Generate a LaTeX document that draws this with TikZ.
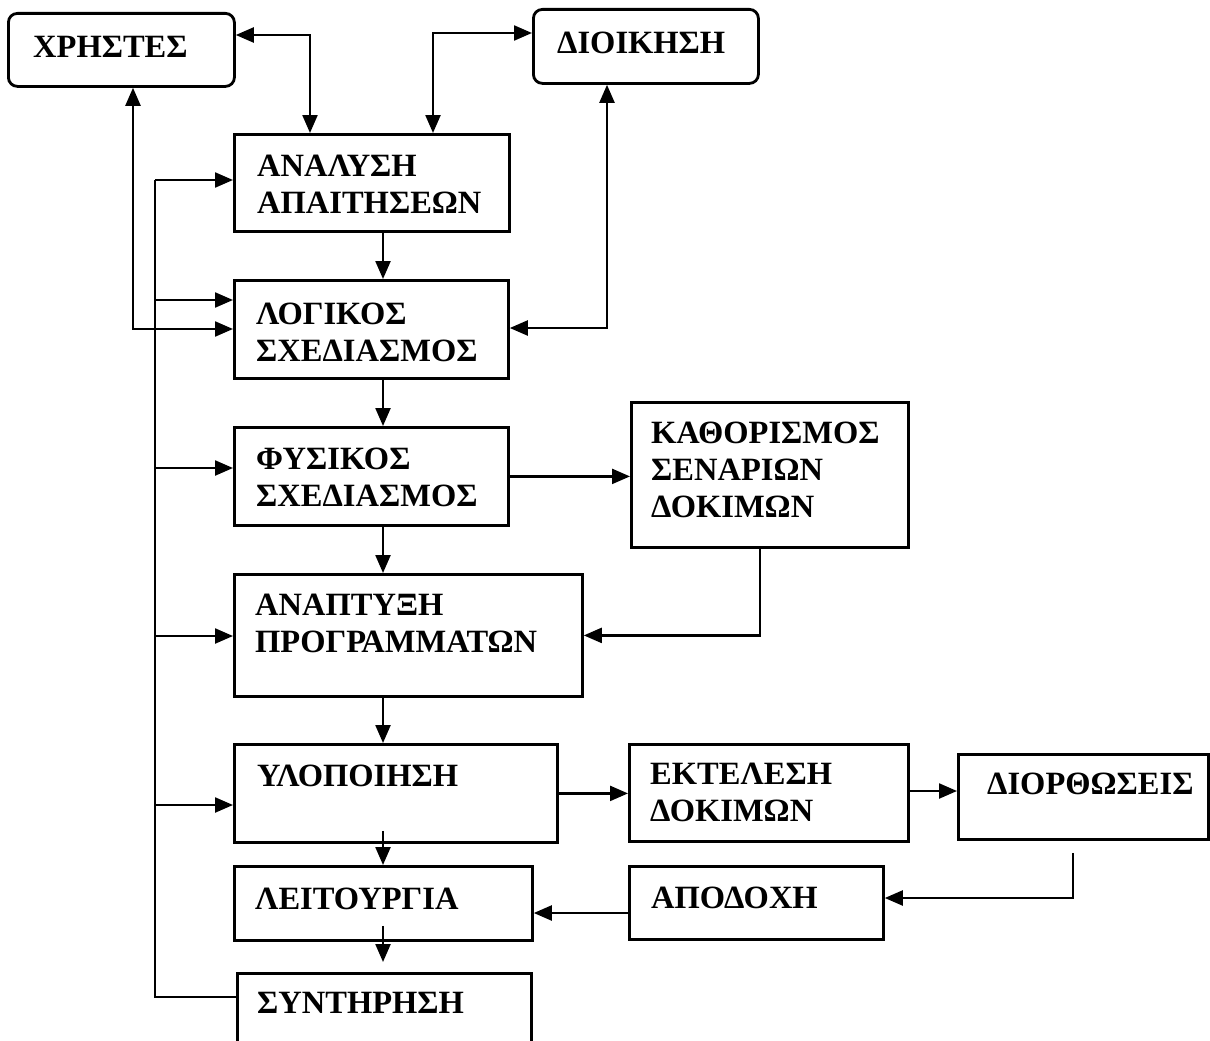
\documentclass[tikz,border=0pt]{standalone}
\usepackage{fontspec}
\setmainfont{Liberation Serif}
\usetikzlibrary{arrows.meta,calc}
% stacked left-aligned lines whose baseline is the first line
\newcommand\stk[1]{\begin{tabular}[t]{@{}l@{}}#1\end{tabular}}
\begin{document}
\begin{tikzpicture}[x=1pt,y=-1pt,
  box/.style={draw, line width=2.8pt, anchor=north west, inner sep=0pt},
  rbox/.style={box, rounded corners=9pt},
  lbl/.style={anchor=base west, inner sep=0pt, font=\fontsize{32.5}{37}\selectfont\bfseries},
  wire/.style={line width=2.3pt},
  tip/.tip={Triangle[length=18pt,width=15pt]},
  arr/.style={wire, -tip},
  darr/.style={wire, tip-tip}]

\fill[white] (0,0) rectangle (1210,1041);
\path[use as bounding box, clip] (0,0) rectangle (1210,1041);

% --- boxes ---
\node[rbox, minimum width=226pt, minimum height=73pt] (xr)   at (7,12)    {};
\node[rbox, minimum width=225pt, minimum height=74pt] (dio)  at (532,8)   {};
\node[box,  minimum width=275pt, minimum height=97pt] (ana)  at (233,133) {};
\node[box,  minimum width=274pt, minimum height=98pt] (log)  at (233,279) {};
\node[box,  minimum width=274pt, minimum height=98pt] (fys)  at (233,426) {};
\node[box,  minimum width=277pt, minimum height=145pt] (kath) at (630,401) {};
\node[box,  minimum width=348pt, minimum height=122pt] (anap) at (233,573) {};
\node[box,  minimum width=323pt, minimum height=98pt] (yl)   at (233,743) {};
\node[box,  minimum width=279pt, minimum height=97pt] (ekt)  at (628,743) {};
\node[box,  minimum width=250pt, minimum height=85pt] (dior) at (957,753) {};
\node[box,  minimum width=298pt, minimum height=74pt] (leit) at (233,865) {};
\node[box,  minimum width=254pt, minimum height=73pt] (apod) at (628,865) {};
\node[box,  minimum width=294pt, minimum height=110pt] (synt) at (236,972) {};

% --- labels ---
\node[lbl] (xrt)   at (33,58)   {ΧΡΗΣΤΕΣ};
\node[lbl] (diot)  at (557,54)  {ΔΙΟΙΚΗΣΗ};
\node[lbl] (anat)  at (257,176) {\stk{ΑΝΑΛΥΣΗ\\ΑΠΑΙΤΗΣΕΩΝ}};
\node[lbl] (logt)  at (256,324) {\stk{ΛΟΓΙΚΟΣ\\ΣΧΕΔΙΑΣΜΟΣ}};
\node[lbl] (fyst)  at (256,469) {\stk{ΦΥΣΙΚΟΣ\\ΣΧΕΔΙΑΣΜΟΣ}};
\node[lbl] (katht) at (651,443) {\stk{ΚΑΘΟΡΙΣΜΟΣ\\ΣΕΝΑΡΙΩΝ\\ΔΟΚΙΜΩΝ}};
\node[lbl] (anapt) at (255,615) {\stk{ΑΝΑΠΤΥΞΗ\\ΠΡΟΓΡΑΜΜΑΤΩΝ}};
\node[lbl] (ylt)   at (257,786) {ΥΛΟΠΟΙΗΣΗ};
\node[lbl] (ektt)  at (650,784) {\stk{ΕΚΤΕΛΕΣΗ\\ΔΟΚΙΜΩΝ}};
\node[lbl] (diort) at (987,794) {ΔΙΟΡΘΩΣΕΙΣ};
\node[lbl] (leitt) at (255,909) {ΛΕΙΤΟΥΡΓΙΑ};
\node[lbl] (apodt) at (651,908) {ΑΠΟΔΟΧΗ};
\node[lbl] (syntt) at (257,1013) {ΣΥΝΤΗΡΗΣΗ};

% --- users and management ---
\draw[darr] ($(xr.north east)+(0,23)$) -| ($(ana.north west)+(77,0)$);
\draw[darr] ($(dio.north west)+(0,25)$) -| ($(ana.north west)+(200,0)$);
\draw[darr] ($(xr.south west)+(126,0)$) |- ($(log.north west)+(0,50)$);
\draw[darr] ($(dio.south west)+(75,0)$) |- ($(log.north east)+(0,49)$);

% --- main chain ---
\draw[arr] ($(ana.south west)+(150,0)$) -- ($(log.north west)+(150,0)$);
\draw[arr] ($(log.south west)+(150,0)$) -- ($(fys.north west)+(150,0)$);
\draw[arr] (fys.east) -- (fys.east -| kath.west);
\draw[arr] ($(fys.south west)+(150,0)$) -- ($(anap.north west)+(150,0)$);
\draw[arr] ($(kath.south west)+(130,0)$) |- (anap.east);
\draw[arr] ($(anap.south west)+(150,0)$) -- ($(yl.north west)+(150,0)$);
\draw[arr] (yl.east) -- (yl.east -| ekt.west);
\draw[arr] ($(ekt.north east)+(0,48)$) -- ($(dior.north west)+(0,38)$);
\draw[arr] ($(dior.south west)+(116,12)$) |- ($(apod.north east)+(0,33)$);
\draw[arr] ($(apod.north west)+(0,48)$) -- ($(leit.north east)+(0,48)$);
\draw[arr] ($(yl.south west)+(150,-13)$) -- ($(leit.north west)+(150,0)$);
\draw[arr] ($(leit.south west)+(150,-16)$) -- ($(synt.north west)+(147,-10)$);

% --- feedback bus from maintenance ---
\coordinate (bustop) at (155,180);
\draw[wire] ($(synt.north west)+(0,25)$) -| (bustop);
\draw[arr] (bustop) -- (bustop -| ana.west);
\path ($(log.north west)+(0,21)$)  coordinate (inlog)
      ($(fys.north west)+(0,42)$)  coordinate (infys)
      ($(anap.north west)+(0,63)$) coordinate (inanap)
      ($(yl.north west)+(0,62)$)   coordinate (inyl);
\draw[arr] (bustop |- inlog)  -- (inlog);
\draw[arr] (bustop |- infys)  -- (infys);
\draw[arr] (bustop |- inanap) -- (inanap);
\draw[arr] (bustop |- inyl)   -- (inyl);
\end{tikzpicture}
\end{document}
